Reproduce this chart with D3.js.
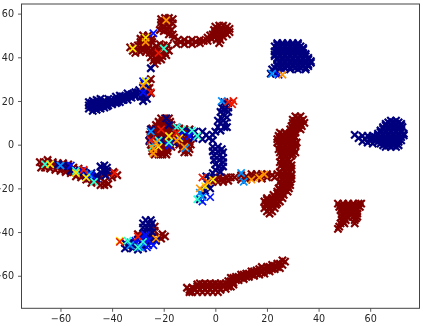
<!DOCTYPE html>
<html>
<head>
<meta charset="utf-8">
<script src="https://d3js.org/d3.v7.min.js"></script>
<style>
html, body { margin: 0; padding: 0; background: #fff; overflow: hidden; }
svg { display: block; filter: blur(0.35px); }
.tick text { font-family: "DejaVu Sans", sans-serif; font-size: 9.6px; fill: #262626; }
</style>
</head>
<body>
<div id="chart"></div>
<script>
var xTicks = [-60, -40, -20, 0, 20, 40, 60];
var yTicks = [-60, -40, -20, 0, 20, 40, 60];

// points, [x, y], one list per colour
var darkRed = [
  // top cluster
  [-21,57.5],[-19.5,58],[-18,58],[-16.5,57.5],[-21,56],[-19.5,56],[-18,56],[-16.5,55.5],[-21,54.5],[-19.5,54],[-18,54],[-21.5,52.5],[-20,52],[-18.5,52.5],[-17,52.5],[-18,50.5],[-16.5,50.5],[-16,49],[-14.5,48],
  [-15,46],[-13.5,47],[-12,48],[-12,46],[-10.5,47],[-9,48],[-9,46],[-7.5,47],[-6,48],[-6,46.5],[-4.5,47.5],[-3,49],[-3,47.5],[-1.5,48.5],[-1,50.5],[-2,50],
  [0,54],[1.5,54.5],[3,54.5],[4.5,54],[5.5,53],[-0.5,52.5],[1,52.5],[2.5,52.5],[4,52.5],[5.5,51.5],[0,51],[1.5,51],[3,51],[4.5,50.5],[0,49.5],[1.5,49.5],[3,49.5],[0.5,48],[2,48],[1.5,46.5],
  [-28,50],[-26,50],[-29,48.5],[-27.5,48.5],[-26,48.5],[-24.5,48.5],[-29,47],[-27.5,47],[-26,47],[-24.5,47],
  [-33,44.5],[-31.5,45],[-30,45.5],[-28.5,45.5],[-27,45.5],[-25.5,45.5],[-32,43],[-30.5,43.5],[-29,44],[-27.5,44],[-26,44],[-24.5,44],[-31,42],[-29,42.5],[-27,42.5],
  [-23,45],[-21.5,46],[-20,45.5],[-18.5,45.5],[-23.5,43],[-22,43.5],[-20.5,44],[-19,44],[-18,43],[-25.5,42],[-24,41.5],[-22.5,41.5],[-21,42],[-19.5,42],[-25,40],[-23.5,40],[-22,40],[-20.5,40.5],[-19,41],[-24,38.5],[-22.5,38.5],[-21,39],[-23.5,37],
  // by the navy arm
  [-26,28],[-25.5,26],[-26.5,24],[-25,30],[-25,23.5],
  // centre blob
  [-21,12],[-19.5,12],[-18,12],[-22,10.5],[-20.5,10.5],[-19,10.5],[-17.5,10.5],[-23,9],[-21.5,9],[-20,9],[-18.5,9],[-17,9],[-24.5,7.5],[-23,7.5],[-21.5,7.5],[-20,7.5],[-18.5,7.5],[-17,7.5],[-15.5,7.5],
  [-25,6],[-23.5,6],[-22,6],[-20.5,6],[-19,6],[-17.5,6],[-16,6],[-25.5,4.5],[-24,4.5],[-22.5,4.5],[-21,4.5],[-19.5,4.5],[-18,4.5],[-16.5,4.5],[-25,3],[-23.5,3],[-22,3],[-20.5,3],[-19,3],[-17.5,3],[-16,3],
  [-25.5,1.5],[-24,1.5],[-22.5,1.5],[-21,1.5],[-19.5,1.5],[-18,1.5],[-16.5,1.5],[-25,0],[-23.5,0],[-22,0],[-20.5,0],[-19,0],[-17.5,0],[-24.5,-1.5],[-23,-1.5],[-21.5,-1.5],[-20,-1.5],[-18.5,-1.5],[-17,-1],
  [-24.5,-3],[-23,-3],[-21.5,-3],[-20,-3],[-18.5,-3],[-23.5,-4.5],[-22,-4.5],[-20.5,-4.5],[-19,-4.5],
  [-14,7.5],[-12,7],[-10,7],[-15,6],[-13.5,5.5],[-12,5],[-10.5,5.5],[-15,4],[-13.5,3.5],[-12,3],[-10.5,3],[-14.5,2],[-13,1.5],[-11.5,1],[-10,1.5],[-14,0],[-12.5,-0.5],[-11,-0.5],[-9.5,0],[-13,-2],[-11.5,-2],[-10,-2],[-12,-3.5],[-10.5,-3.5],
  // right column
  [31,13],[33,13],[30,11.5],[32,11.5],[34,11.5],[30,10],[32,10],[34.5,10],[29.5,8.5],[31.5,8.5],[33.5,8.5],[29,7],[31,7],[33,7],
  [25,5.5],[27,5.5],[29,5.5],[31,5.5],[24.5,4],[26.5,4],[28.5,4],[30.5,4],[24,2.5],[26,2.5],[28,2.5],[30,2.5],[24,1],[26,1],[28,1],[30,1],[31.5,1],
  [25,-0.5],[27,-0.5],[29,-0.5],[31,-0.5],[24.5,-2],[26.5,-2],[28.5,-2],[30.5,-2],[25,-3.5],[27,-3.5],[29,-3.5],[31,-3.5],[25.5,-5],[27.5,-5],[29.5,-5],[26,-6.5],[28,-6.5],
  [25,-8],[27,-8],[29,-8],[25.5,-9.5],[27.5,-9.5],[29.5,-9.5],[26,-11],[28,-11],[29.5,-11],[25,-12.5],[27,-12.5],[29,-12.5],[25.5,-14],[27.5,-14],[29.5,-14],[26,-15.5],[28,-15.5],[29.5,-15.5],
  [25,-17],[27,-17],[29,-17],[25.5,-18.5],[27.5,-18.5],[29,-18.5],[24.5,-20],[26.5,-20],[28.5,-20],[24,-21.5],[26,-21.5],[28,-21.5],[22.5,-23],[24.5,-23],[26.5,-23],
  [20,-24.5],[22,-24.5],[24,-24.5],[26,-24.5],[19,-26],[21,-26],[23,-26],[25,-26],[19.5,-27.5],[21.5,-27.5],[23.5,-27.5],[19,-29],[21,-29],[23,-29],[20,-30.5],[22,-30.5],[21,-31.5],
  [32,12.25],[31,10.75],[33,10.75],[31,9.25],[33,9.25],[30,7.75],[32,7.75],[26,4.75],[28,4.75],[30,4.75],[25,3.25],[27,3.25],[29,3.25],[31,3.25],[25,1.75],[27,1.75],[29,1.75],[25,0.25],[27,0.25],[29,0.25],[31,0.25],
  [26,-1.25],[28,-1.25],[30,-1.25],[26,-2.75],[28,-2.75],[30,-2.75],[26,-4.25],[28,-4.25],[30,-4.25],[26,-7.25],[28,-7.25],[26,-8.75],[28,-8.75],[27,-10.25],[29,-10.25],[27,-11.75],[26,-13.25],[28,-13.25],[27,-14.75],[29,-14.75],
  [26,-16.25],[28,-16.25],[26,-17.75],[28,-17.75],[26,-19.25],[28,-19.25],[25,-20.75],[27,-20.75],[24,-22.25],[26,-22.25],[23,-23.75],[25,-23.75],[20,-25.25],[22,-25.25],[24,-25.25],[20,-26.75],[22,-26.75],[24,-26.75],[20,-28.25],[22,-28.25],[21,-29.75],
  // far right
  [47.5,-27],[49.5,-27],[51.5,-27],[53.5,-27],[55.5,-27],[56.5,-27],[48,-28.5],[50,-28.5],[52,-28.5],[54,-28.5],[56,-28.5],[48.5,-30],[50.5,-30],[52.5,-30],[54.5,-30],[49,-31.5],[51,-31.5],[53,-31.5],[55,-31.5],
  [49,-33],[51,-33],[53.5,-33],[55,-33],[49,-34.5],[50.5,-34.5],[54,-34.5],[48.5,-36],[50,-36],[54,-36],[48,-37.5],[47.5,-38.5],
  [49,-27.75],[51,-27.75],[53,-27.75],[55,-27.75],[49,-29.25],[51,-29.25],[53,-29.25],[55,-29.25],[50,-30.75],[52,-30.75],[54,-30.75],[50,-32.25],[54,-32.25],[50,-33.75],[54.5,-33.75],[49.5,-35.25],
  // bottom band
  [27,-53.5],[26,-55],[25,-54.5],[24,-56],[23,-55.5],[22,-57],[21,-56],[20,-57.5],[19,-57],[18,-58.5],[17,-57],[16,-59],[15,-58],[14,-59.5],[13,-59],[12,-60.5],[11,-59.5],[10,-61],[9,-60.5],[8,-62],[7,-61],[6,-62.5],[18,-56],
  [26,-53],[24,-54.5],[22,-55],[20,-56],[18,-57.5],[16,-57.5],[14,-58],[12,-59],[10,-59.5],[8,-60.5],[6,-61],[25,-56.5],[23,-57],[21,-58],[19,-59],[17,-59.5],[15,-60],[13,-60.5],[11,-61.5],[9,-62],[7,-63],[5,-62.5],
  [4,-63.5],[2,-63.5],[0,-63.5],[-2,-63.5],[-4,-63.5],[-6,-63.5],[6,-65],[5,-65],[3,-65],[1,-65],[-1,-65],[-3,-65],[-5,-65],[-7,-65],[2,-66.5],[0,-66.5],[-2,-66.5],[-4,-66.5],[-6,-66.5],[-8,-66.5],[-10,-66.5],[-9,-65.5],[-11,-65.5],[-7,-67.5],[-9,-67.5],[-3,-67.5],[-1,-67.5],
  [5,-64],[3,-64],[1,-64],[-1,-64],[-3,-64],[-5,-64],[-7,-64],[4,-66],[2,-66],[0,-66],[-2,-66],[-4,-66],[-6,-66],[-8,-66],[-10,-67.5],[1,-67.5],[-5,-67.5],[7,-64],
  // middle row
  [0,-15.5],[1.5,-15],[3,-15.5],[4.5,-15],[6,-15],[7.5,-15],[-1,-17],[1,-17],[3,-17],[5,-16.5],[-2,-16],[10,-14],[10,-16],[12,-14.5],[12,-16],[14,-15],[14,-13.5],[16,-15],[16,-13.5],[18,-15.5],[18,-13.5],[20,-15],[20,-13.5],[22,-14],[24,-13.5],[23,-15],
  // left streak
  [-68,-8],[-66.5,-8],[-67.5,-10.5],[-65.5,-9],[-64,-9.5],[-62.5,-9.5],[-61,-10.5],[-59.5,-11],[-58,-11],[-56.5,-11.5],[-55,-12.5],[-53.5,-13],[-52,-13.5],[-50.5,-14],[-49,-15.5],[-47.5,-16],[-46,-17],[-44.5,-15],
  [-66,-10.5],[-64,-11],[-62,-11.5],[-60,-12],[-58,-12.5],[-56,-13],[-54,-14.5],[-52,-15],[-50,-16],[-48,-17.5],[-65,-7],[-63,-8],[-61,-8.5],[-59,-8.5],[-57,-9],[-55,-10.5],[-53,-11],[-51,-12],
  [-44.5,-18.5],[-43,-18.5],[-41.5,-18],[-43,-17],[-41,-13.5],[-39.5,-12.5],[-40,-15],[-38,-14],
  // lower left
  [-23.5,-37.5],[-23.5,-39.5],[-30,-41],[-22,-42],[-20.5,-41],[-24,-42],[-23,-43.5],[-21,-43],[-19.5,-42]
];
var navy = [
  // arm
  [-49,16.5],[-49,18],[-49,19.5],[-47.5,15.5],[-47.5,17],[-47.5,18.5],[-47.5,20],[-46,16],[-46,17.5],[-46,19],[-46,20.5],[-44.5,16.5],[-44.5,18],[-44.5,19.5],[-44.5,21],[-43,17],[-43,18.5],[-43,20],[-41.5,18],[-41.5,19.5],[-41.5,21],
  [-40,18.5],[-40,20],[-38.5,19],[-38.5,20.5],[-38.5,22],[-37,19.5],[-37,21],[-37,22.5],[-35.5,20.5],[-35.5,22],[-34,20.5],[-34,22],[-34,23.5],[-32.5,21.5],[-32.5,23],[-31,22],[-31,24],[-29.5,23],[-29.5,25],[-28,20],[-28,22],[-28,24],[-28,26],[-26.5,21],[-27.5,28],[-25,35],
  [-48,17.5],[-48,19],[-46.5,18],[-45,17],[-45,19.5],[-43.5,18],[-42,19],[-42,17.5],[-40.5,20.5],[-40,19],[-38,19.5],[-36,20.5],[-36,22],[-34.5,21.5],[-33,22.5],[-31.5,23],[-30,24],[-29,22],[-27,23],[-27,25],
  // top-right blob
  [24,46.5],[26,46.5],[28,46.5],[30,46.5],[32,46.5],[23,45],[25,45],[27,45],[29,45],[31,45],[33,45],[24,43.5],[26,43.5],[28,43.5],[30,43.5],[32,43.5],[34,43.5],[24,42],[26,42],[28,42],[30,42],[32,42],[34,42],[35,41.5],
  [23,40.5],[25,40.5],[27,40.5],[29,40.5],[31,40.5],[33,40.5],[35,40.5],[24,39],[26,39],[28,39],[30,39],[32,39],[34,39],[36,39],[25,37.5],[27,37.5],[29,37.5],[31,37.5],[33,37.5],[35,37.5],[37,37.5],
  [24,36],[26,36],[28,36],[30,36],[32,36],[34,36],[36,36],[22,34.5],[24,34.5],[26,34.5],[29,34.5],[32,34.5],[35,34.5],[21.5,32.5],[23.5,32.5],
  [24,45.75],[26,45.75],[28,45.75],[30,45.75],[32,45.75],[24,44.25],[26,44.25],[28,44.25],[30,44.25],[32,44.25],[34,44.25],[23,42.75],[25,42.75],[27,42.75],[29,42.75],[31,42.75],[33,42.75],
  [23,41.25],[25,41.25],[27,41.25],[29,41.25],[31,41.25],[33,41.25],[24,39.75],[26,39.75],[28,39.75],[30,39.75],[32,39.75],[34,39.75],[36,39.75],[25,38.25],[27,38.25],[29,38.25],[31,38.25],[33,38.25],[35,38.25],[37,38.25],
  [24,36.75],[26,36.75],[28,36.75],[30,36.75],[32,36.75],[34,36.75],[36,36.75],[23,35.25],[25,35.25],[27,35.25],[29,35.25],[31,35.25],[33,35.25],[35,35.25],
  // right blob
  [54,4.5],[55.5,3],[57,4],[58,2.5],[59,4],[60,3],[57,1.5],[59,1],[61,0.5],[61,4],
  [68,11],[70,11],[66,9.5],[68,9.5],[70,9.5],[72,9.5],[65,8],[67,8],[69,8],[71,8],[72.5,8],[64,6.5],[66,6.5],[68,6.5],[70,6.5],[72,6.5],[63,5],[65,5],[67,5],[69,5],[71,5],[73,5],
  [62,3.5],[64,3.5],[66,3.5],[68,3.5],[70,3.5],[72,3.5],[60,2],[62,2],[64,2],[66,2],[68,2],[70,2],[72,2],[64,0.5],[66,0.5],[68,0.5],[70,0.5],[66,-1],[68,-1],[70,-1],
  [67,10.25],[69,10.25],[71,10.25],[66,8.75],[68,8.75],[70,8.75],[72,8.75],[65,7.25],[67,7.25],[69,7.25],[71,7.25],[64,5.75],[66,5.75],[68,5.75],[70,5.75],[72,5.75],[63,4.25],[65,4.25],[67,4.25],[69,4.25],[71,4.25],[73,4.25],
  [61,2.75],[63,2.75],[65,2.75],[67,2.75],[69,2.75],[71,2.75],[63,1.25],[65,1.25],[67,1.25],[69,1.25],[71,1.25],[65,-0.25],[67,-0.25],[69,-0.25],[71,-0.25],
  // centre
  [-10,6],[-8.5,3],[-8,6],[-6.5,4],[-5,6],[-5,2.5],[-3.5,4.5],[-2.5,3],[-1,2],[-1,4.5],[0,6],[1,8],[2,6.5],[2,10],[3.5,8],[2.5,12],[4,10],[3,14],[4.5,12.5],[3.5,16],[5,15],[4,18],[3.5,19.5],[5,19],[2,15],[5,17],[2.5,17],[3,11],[1,11],[4.5,8],
  [-1,-1],[1,-1],[2.5,-2],[-1,-3],[1,-3],[3,-3.5],[-0.5,-5],[1.5,-5],[3,-6],[-0.5,-7],[1.5,-7],[3,-8],[0,-9],[1.5,-10],[3,-10],[0,-11.5],[2,-12.5],[-1,-13],
  [-25,7],[-19,12],[-15,8],[-13,6],[-21,2],[-16,1],[-18,9],[-25.5,2],
  [-3,-18],[-2,-20],[-4,-21],[-5,-23],[-6,-25],[-3.5,-14.5],[-2,-15],
  // left streak
  [-61,-9],[-59,-9.5],[-57,-10],[-56,-12],[-54,-12],[-52.5,-12],[-51,-12.5],[-50,-14.5],[-48,-13],[-48,-15],[-46,-14],[-46,-15.5],[-44.5,-10],[-43,-9.5],[-42,-10.5],[-43.5,-11.5],[-42,-12],[-44,-13],[-42.5,-14],
  // lower left
  [-27,-34.5],[-25,-34.5],[-28,-36],[-26,-36],[-24.5,-36],[-28,-38],[-26.5,-38],[-25,-38],[-27.5,-40],[-26,-40],[-24.5,-40],[-27.5,-42],[-25.5,-42.5],[-30,-43.5],[-28,-44],[-26.5,-44],[-25,-44.5],[-23,-44],
  [-35,-45],[-33,-45],[-31.5,-45],[-29.5,-46],[-28,-46],[-26,-46],[-34,-46.5],[-35,-47.5],[-32,-47.5],[-30,-48],[-28,-47.5]
];
var blue = [
  [-24,51],[-28,24],[-28,29],[-26,-44],[-29,-43],[-31,-44],[-27,-41.5],[-24,-46],[-52,-12],[-56,-9.5],[-48,-14],[-2,-24],[-5,-26],[-24,1],[-18,-0.5],[-14,4],[-10,4],[24.5,32],[-26.5,-47],[-28,-45]
];
var azure = [
  [-11.5,-1.5],[-25,6],[-24,0.5],[2.5,20],[-5,-24],[-6,-22],[10,-13],[11,-17],[-33,-46],[-29,-47],[-60,-9.5],[22,32.5],[-49,-13.5]
];
var cyan = [
  [-27,29],[-22,2],[-24.5,-1],[-18,1],[-13,7],[-9,6.5],[-7,4],[-47,-17],[-54,-12],[-30,-47],[-34,-44],[-28,-44.5],[-7,-25],[-15,8],[-66,-9],[-20,44]
];
var yellow = [
  [-32,44],[-27,29],[-18,4],[-22,-1],[-14,3],[-37,-44],[-54,-13],[-64,-9],[-1,-16],[-4,-19],[-27,49],[-50,-15]
];
var orange = [
  [-27,47],[-19,57],[-12,-1],[-24,-4],[-23,1],[-15,2],[-24,-2],[-3,-17],[14,-16],[19,-13.5],[17,-15],[-23,-43],[-6,-20],[26,32],[-28,27]
];
var red = [
  [-22,42],[-25,24],[5,19.5],[7,20],[6.5,18.5],[-21,7],[-15,5.5],[-51,-11.5],[-39,-13],[-30,-42],[-37,-44.5],[-25,2],[-5,-15]
];

var svgWidth = 423, svgHeight = 326;
var margin = {top: 4, right: 3.5, bottom: 17.7, left: 21.5};
var width = svgWidth - margin.left - margin.right,
    height = svgHeight - margin.top - margin.bottom;

var xScale = d3.scaleLinear().domain([-75.1, 79.1]).range([0, width]);
var yScale = d3.scaleLinear().domain([-74.9, 64.4]).range([height, 0]);

var svg = d3.select("#chart").append("svg")
    .attr("width", svgWidth).attr("height", svgHeight);
var g = svg.append("g").attr("transform", "translate(" + margin.left + "," + margin.top + ")");

var marker = d3.symbol().type(d3.symbolX).size(36);

// drawn back to front
var layers = [
  {points: darkRed, color: "#800000", stroke: 2.2},
  {points: navy, color: "#00007f", stroke: 2.2},
  {points: blue, color: "#0010ff", stroke: 1.7},
  {points: azure, color: "#0090ff", stroke: 1.7},
  {points: cyan, color: "#30ffd0", stroke: 1.7},
  {points: yellow, color: "#ffe600", stroke: 1.7},
  {points: orange, color: "#ff9400", stroke: 1.7},
  {points: red, color: "#ee1800", stroke: 1.7}
];

layers.forEach(function(layer) {
  g.append("g").selectAll("path").data(layer.points).enter().append("path")
    .attr("d", marker)
    .attr("transform", function(d) { return "translate(" + xScale(d[0]) + "," + yScale(d[1]) + ")"; })
    .style("fill", "none")
    .style("stroke", layer.color)
    .style("stroke-width", layer.stroke);
});

var xAxis = d3.axisBottom(xScale).tickValues(xTicks).tickSize(3.5).tickPadding(3);
var yAxis = d3.axisLeft(yScale).tickValues(yTicks).tickSize(3.5).tickPadding(4);

g.append("g").attr("transform", "translate(0," + height + ")").call(xAxis);
g.append("g").call(yAxis);

g.selectAll(".domain").remove();
g.selectAll(".tick line").style("stroke", "#333").style("stroke-width", 0.8);

g.append("rect").attr("width", width).attr("height", height)
  .style("fill", "none").style("stroke", "#444").style("stroke-width", 1);
</script>
</body>
</html>
